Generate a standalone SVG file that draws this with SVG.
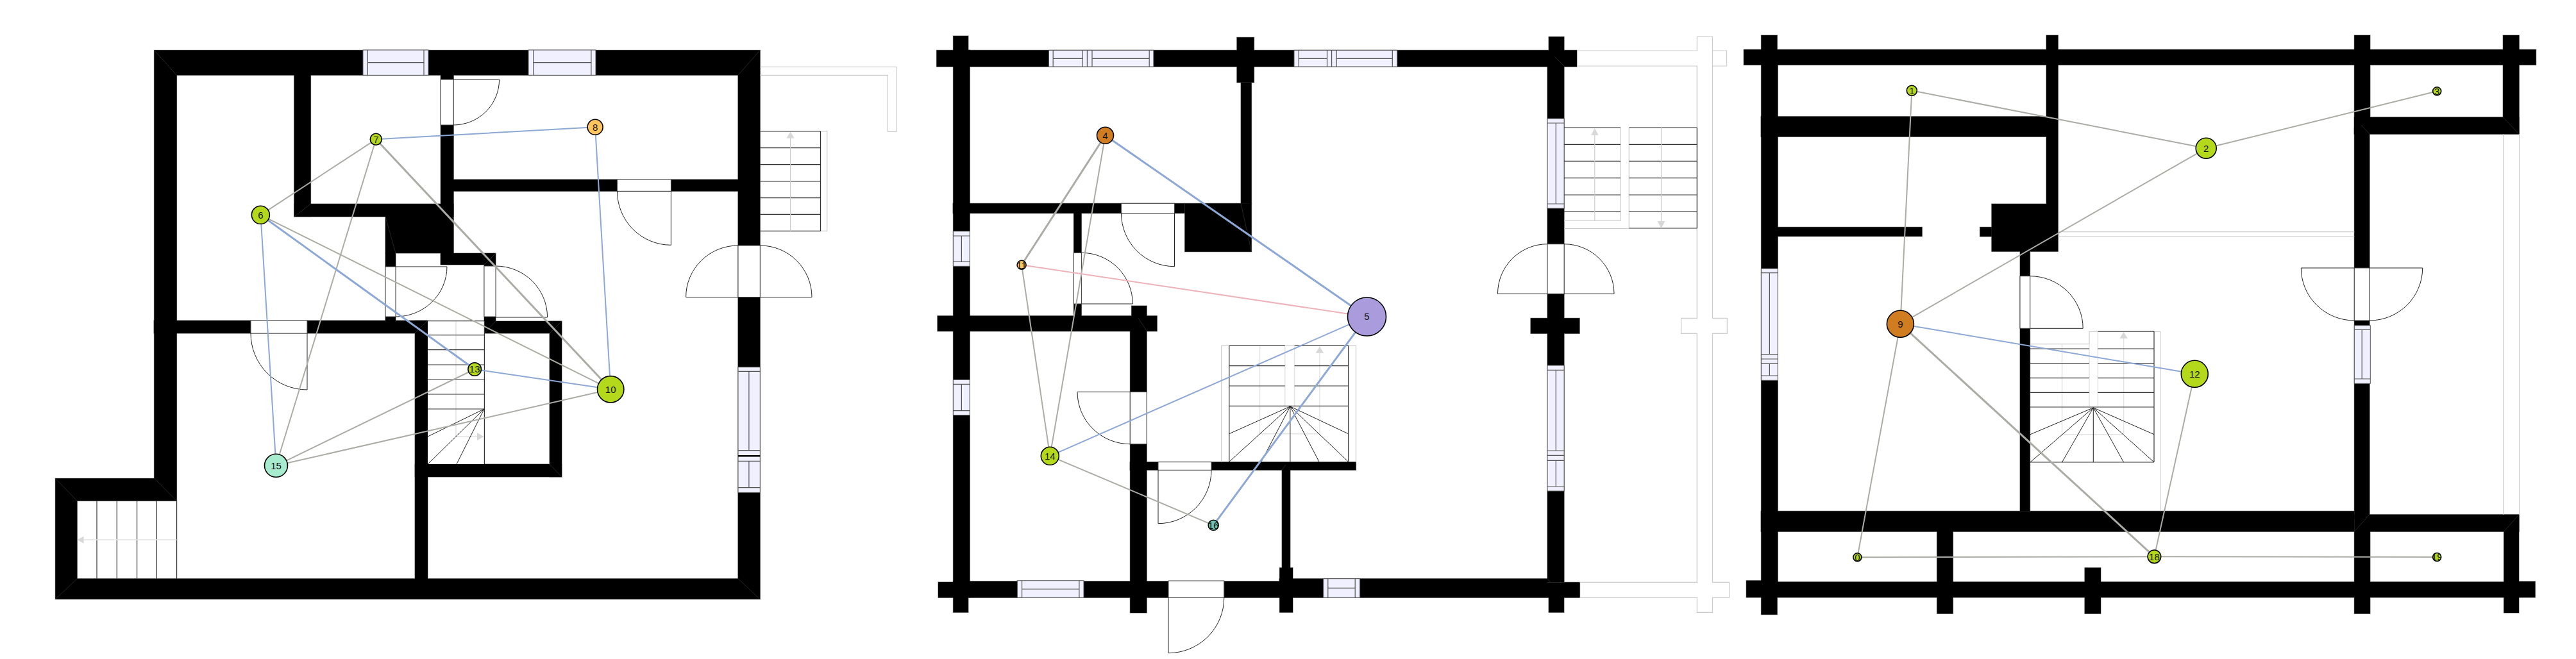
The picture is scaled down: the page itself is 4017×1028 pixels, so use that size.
<svg xmlns="http://www.w3.org/2000/svg" xmlns:xlink="http://www.w3.org/1999/xlink" width="4017" height="1028" viewBox="0 0 4017 1028">
<style>
.frame{fill:#fff;stroke:#444;stroke-width:1}
.door{fill:none;stroke:#222;stroke-width:1}
.win{fill:#f0f0fe;stroke:#555;stroke-width:1}
.wl{fill:none;stroke:#555;stroke-width:1.2}
.tread{fill:none;stroke:#333;stroke-width:1.2}
.fan{fill:none;stroke:#222;stroke-width:1}
.ghost{fill:none;stroke:#ccc;stroke-width:1.2}
.ghostb{fill:none;stroke:#e4e4e4;stroke-width:1.5}
.head{fill:#d8d8d8;stroke:none}
.seam{fill:none;stroke:#333;stroke-width:.7}
.e{fill:none;stroke-linecap:round}
.g{stroke:#acaca6;stroke-width:2}
.gt{stroke:#acaca6;stroke-width:3}
.b{stroke:#8ea8d6;stroke-width:2}
.bt{stroke:#8ea8d6;stroke-width:3}
.p{stroke:#eeb2ba;stroke-width:2}
.n{stroke:#000;stroke-width:1.6}
.t{font-family:"Liberation Sans",Arial,sans-serif;font-size:15px;fill:#111;text-anchor:middle}
.lime{fill:#b4d91c}.amber{fill:#ffc55f}.mint{fill:#a8ecd0}.teal{fill:#6fc2ad}.orange{fill:#d07c20}.violet{fill:#a99bdc}
</style>
<defs>
<g id="walls1">
<path fill-rule="evenodd" d="M240.4 78.3H1185.3V934.7H86.3V746.3H240.4Z M275.6 117.3V781.3H120.3V902.7H1150.9V117.3Z"/>
<rect x="458.7" y="117" width="25.9" height="221"/>
<rect x="458.7" y="318" width="248.6" height="20"/>
<rect x="687.2" y="117" width="20.1" height="278"/>
<rect x="707" y="280" width="444" height="18.3"/>
<rect x="601" y="338" width="106" height="57"/>
<rect x="601" y="395" width="16" height="105"/>
<rect x="240" y="500" width="427" height="20"/>
<rect x="687" y="395" width="86" height="18"/>
<rect x="755" y="413" width="18" height="88"/>
<rect x="755" y="501" width="121" height="19"/>
<rect x="857" y="501" width="19" height="243"/>
<rect x="647" y="500" width="20" height="403"/>
<rect x="647" y="724" width="229" height="20"/>
</g>
<g id="walls2">
<rect x="1460.5" y="78.3" width="998.5" height="25.7"/>
<rect x="1486.4" y="56" width="23.6" height="24"/>
<rect x="1486.4" y="78" width="25.9" height="830"/>
<rect x="1486.4" y="906" width="23.6" height="49.3"/>
<rect x="1463" y="908" width="50" height="24.3"/>
<rect x="1510" y="906.7" width="485.4" height="25.6"/>
<rect x="1995" y="902.7" width="418" height="29.6"/>
<rect x="2413" y="908.3" width="50.6" height="24"/>
<rect x="1461.9" y="492.7" width="342.4" height="24"/>
<rect x="1486" y="317.3" width="361.6" height="15.4"/>
<rect x="1847.6" y="317.3" width="104" height="75.4"/>
<rect x="1935" y="128.7" width="16.6" height="189"/>
<rect x="1928.8" y="58.3" width="26.8" height="70.4"/>
<rect x="1674.4" y="332" width="12" height="161"/>
<rect x="1762.3" y="516" width="25.9" height="440"/>
<rect x="1764.5" y="477" width="23.7" height="16"/>
<rect x="1762" y="720.7" width="352.5" height="12.6"/>
<rect x="1999" y="733" width="13" height="153"/>
<rect x="1995.4" y="885.7" width="20.6" height="69.6"/>
<rect x="2413" y="104" width="26.1" height="804"/>
<rect x="2415" y="57.3" width="24.1" height="22"/>
<rect x="2415" y="930" width="24" height="25.3"/>
<rect x="2386.9" y="496.3" width="76.3" height="24"/>
</g>
<g id="walls3">
<rect x="2719.2" y="77.3" width="1235.5" height="24"/>
<rect x="2746.4" y="55" width="25" height="30"/>
<rect x="2746.4" y="80" width="25.9" height="830"/>
<rect x="2746.4" y="905" width="25" height="53.7"/>
<rect x="2723.2" y="905.7" width="30" height="26.3"/>
<rect x="2750" y="907.7" width="1180" height="24.3"/>
<rect x="3925" y="907" width="28.4" height="25"/>
<rect x="2746" y="181.7" width="463" height="31.6"/>
<rect x="3191" y="55" width="18.4" height="263"/>
<rect x="3105.8" y="318" width="103.6" height="74.3"/>
<rect x="3087.5" y="354.3" width="18.3" height="14.7"/>
<rect x="2772" y="354.3" width="225.3" height="14.4"/>
<rect x="3150" y="392" width="15.6" height="405.3"/>
<rect x="2746" y="797.3" width="925.3" height="32"/>
<rect x="3671.3" y="802.7" width="257" height="26.6"/>
<rect x="3020.5" y="829" width="25" height="128.3"/>
<rect x="3250.9" y="885.7" width="25" height="71.6"/>
<rect x="3671.3" y="55" width="24.7" height="154"/>
<rect x="3671.3" y="200" width="23.8" height="610"/>
<rect x="3671.3" y="829" width="24.7" height="128.3"/>
<rect x="3671.3" y="182.7" width="257" height="26.6"/>
<rect x="3903.2" y="55" width="25.1" height="154"/>
<rect x="3904.5" y="829" width="23.5" height="127"/>
</g>
<clipPath id="c0"><circle cx="2896.4" cy="869.3" r="6.5"/></clipPath>
<clipPath id="c1"><circle cx="2981.3" cy="141.3" r="8"/></clipPath>
<clipPath id="c3"><circle cx="3800.2" cy="142.3" r="6.5"/></clipPath>
<clipPath id="c7"><circle cx="586.3" cy="217.3" r="9"/></clipPath>
<clipPath id="c11"><circle cx="1593.1" cy="413.3" r="7"/></clipPath>
<clipPath id="c13"><circle cx="740.2" cy="576" r="10.3"/></clipPath>
<clipPath id="c16"><circle cx="1892.2" cy="819.3" r="8"/></clipPath>
<clipPath id="c18"><circle cx="3359.4" cy="868.3" r="10.3"/></clipPath>
<clipPath id="c19"><circle cx="3800.2" cy="869" r="6.5"/></clipPath>
</defs>

<rect width="4017" height="1028" fill="#fff"/>

<g id="plan-1">
<use href="#walls1" fill="#000" stroke="#888" stroke-width="1.2"/>
<use href="#walls1" fill="#000" stroke="none"/>
<path class="seam" d="M240.4 78.3L275.6 117.3M1185.3 78.3L1150.9 117.3M1185.3 934.7L1150.9 902.7M86.3 934.7L120.3 902.7M86.3 746.3L120.3 781.3M240.4 746.3L275.6 781.3M458.7 338L484.6 318M601 338L617 395M647 520L667 500M755 520L773 501M876 501L857 520M876 744L857 724M773 395L755 413"/>
<path class="ghost" d="M1185.3 104.3H1397.8V205.3H1384.4V117.3H1185.3"/>
<rect class="ghost" x="1279.5" y="204.7" width="10.2" height="155.6"/>
<rect x="566" y="78" width="102" height="39.3" class="win"/><path class="wl" d="M573.4 78V117.3M661 78V117.3M573.4 97.7H661"/>
<rect x="824" y="78" width="105" height="39.3" class="win"/><path class="wl" d="M831.7 78V117.3M921.9 78V117.3M831.7 97.7H921.9"/>
<rect x="1151" y="572.7" width="34.3" height="195.6" class="win"/><path class="wl" d="M1151 579.3H1185.3M1167.9 579.3V702.7M1151 702.7H1185.3M1167.9 719.3V760.7M1151 719.3H1185.3M1151 760.7H1185.3"/><path d="M1151 711.3H1185.3" stroke="#000" stroke-width="2.5"/>
<rect class="frame" x="687.2" y="124" width="20.1" height="71"/><path class="door" d="M707 124H778.6A71.6 71 0 0 1 707 195"/>
<rect class="frame" x="601" y="416" width="16" height="78"/><path class="door" d="M617 416H697A80 78 0 0 1 617 494"/>
<rect class="frame" x="755" y="415" width="18" height="79"/><path class="door" d="M773 495H853.6A80.6 80 0 0 0 773 415"/>
<rect class="frame" x="391" y="500" width="88" height="20"/><path class="door" d="M479 520V608A88 88 0 0 1 391 520"/>
<rect class="frame" x="962.5" y="280" width="83.9" height="18.3"/><path class="door" d="M1046.4 298V382.3A84 84 0 0 1 962.5 298"/>
<rect class="frame" x="1151" y="383" width="34.3" height="80.6"/><path class="door" d="M1151 463.6H1069.6A81.4 80.6 0 0 1 1151 383M1185.3 463.6H1266A80.7 80.6 0 0 0 1185.3 383"/>
<rect x="667" y="500.7" width="88" height="223.3" fill="#fff"/>
<path class="ghostb" d="M711 500.7V681H745"/>
<path class="head" d="M754.5 681L744 675V687Z"/>
<path class="tread" d="M667 500.7H755M667 522.7H755M667 545.7H755M667 569H755M667 592H755M667 615H755M667 638H755M755.4 500.7V724"/>
<path class="fan" d="M755 638L667 681M755 638L667 724M755 638L712 724"/>
<path class="tread" d="M1185.3 204.7H1279.5M1185.3 230.7H1279.5M1185.3 256.7H1279.5M1185.3 282.7H1279.5M1185.3 308.7H1279.5M1185.3 334.3H1279.5M1185.3 360.3H1279.5M1279.5 204.7V360.3"/>
<path class="ghost" d="M1232.6 215V360.3"/><path class="head" d="M1232.6 205.5L1226.3 215.7H1238.8Z"/>
<path class="tread" d="M151 781.3V902.7M182.3 781.3V902.7M213.6 781.3V902.7M244.4 781.3V902.7M275.6 781.3V902.7"/>
<path class="ghostb" d="M275.6 842H130"/><path class="head" d="M120.5 842L130.5 836.7V847.7Z"/>
</g>

<g id="plan-2">
<use href="#walls2" fill="#000" stroke="#888" stroke-width="1.2"/>
<use href="#walls2" fill="#000" stroke="none"/>
<path class="seam" d="M1951.6 392.7L1935 317.3M1775 496L1788 516M2439 103L2426 90M2413 902.7L2418 908M1999 733L2005 725"/>
<path class="ghost" d="M2459 79H2646.4V57.3H2670.5V79H2692.5V103H2670.5V496.3H2693.3V520.3H2670.5V908.3H2696.6V932.3H2670.5V955.3H2646.4V932.3H2463.6M2463.6 908.3H2646.4V520.3H2621.6V496.3H2646.4V103H2459"/>
<path class="ghost" d="M2646.4 103V496.3M2646.4 520.3V908.3M2670.5 103V79"/>
<rect x="1635.5" y="78.3" width="163.4" height="25.7" class="win"/><path class="wl" d="M1642.2 78.3V104M1688.2 78.3V104M1695.4 78.3V104M1703 78.3V104M1792.2 78.3V104M1642.2 91.3H1688.2M1703 91.3H1792.2"/>
<rect x="2018" y="78.3" width="160.8" height="25.7" class="win"/><path class="wl" d="M2025.3 78.3V104M2069.5 78.3V104M2076.6 78.3V104M2084.2 78.3V104M2171.3 78.3V104M2025.3 91.3H2069.5M2084.2 91.3H2171.3"/>
<rect x="1486.4" y="360.7" width="25.9" height="54.6" class="win"/><path class="wl" d="M1486.4 368H1512.3M1486.4 408.3H1512.3M1499.4 368V408.3"/>
<rect x="1486.4" y="592.3" width="25.9" height="55.4" class="win"/><path class="wl" d="M1486.4 599.3H1512.3M1486.4 640.7H1512.3M1499.4 599.3V640.7"/>
<rect x="1586.4" y="905.7" width="103.6" height="26.6" class="win"/><path class="wl" d="M1593.6 905.7V932.3M1682.9 905.7V932.3M1593.6 919H1682.9"/>
<rect x="2063.7" y="902.7" width="56.9" height="29.6" class="win"/><path class="wl" d="M2070.8 902.7V932.3M2113.2 902.7V932.3M2070.8 917.3H2113.2"/>
<rect x="2413" y="185" width="26.1" height="140" class="win"/><path class="wl" d="M2413 192H2439.1M2413 318H2439.1M2426.3 192V318"/>
<rect x="2413" y="570" width="26.1" height="196" class="win"/><path class="wl" d="M2413 577.3H2439.1M2413 703H2439.1M2413 710.3H2439.1M2413 718.3H2439.1M2413 759H2439.1M2426.3 577.3V703M2426.3 718.3V759"/>
<rect class="frame" x="1748.5" y="317.3" width="83" height="15.4"/><path class="door" d="M1831.5 332.7V415.7A83 83 0 0 1 1748.5 332.7"/>
<rect class="frame" x="1674.4" y="394.3" width="12" height="79.7"/><path class="door" d="M1686.4 394.3A79.9 79.7 0 0 1 1766.3 474H1686.4"/>
<rect class="frame" x="1762.3" y="611.3" width="25.9" height="81.4"/><path class="door" d="M1762.3 611.3H1680A82.3 81.4 0 0 0 1762.3 692.7"/>
<rect class="frame" x="1806" y="720.7" width="83" height="12.6"/><path class="door" d="M1806 733.3V816.7A83 83.4 0 0 0 1889 733.3"/>
<rect class="frame" x="1822" y="906" width="86.8" height="26.3"/><path class="door" d="M1822 932.3V1018.7A86.8 86.4 0 0 0 1908.8 932.3"/>
<rect class="frame" x="2413" y="380.7" width="26.1" height="77.6"/><path class="door" d="M2413 380.7A77.5 77.6 0 0 0 2335.5 458.3H2413M2439 380.7A78 77.6 0 0 1 2517 458.3H2439"/>
<path class="ghost" d="M1904.7 720.7V539.3H2114.5V720.7"/>
<path class="ghostb" d="M1964.5 539.3V676.7H2057.9V539.3M2003.8 539.3V633M2018.6 539.3V633"/>
<path class="head" d="M2057.9 540.7L2051.5 550.7H2064.3Z"/>
<path class="tread" d="M1916.8 539.3H2003.8M2018.6 539.3H2103M1916.8 570.7H2003.8M2018.6 570.7H2103M1916.8 602H2003.8M2018.6 602H2103M1916.8 633.3H2103M1916.8 539.3V720.3M2102.7 539.3V720.3"/>
<path class="fan" d="M2011.9 634L1916.8 676.7M2011.9 634L1916.8 720.3M2011.9 634L1966.8 720.3M2011.9 634V720.3M2011.9 634L2057 720.3M2011.9 634L2102.5 720.3M2011.9 634L2102.5 676.7"/>
<path class="ghost" d="M2439 344.3H2527V199.3M2540.3 199.3V356M2439 356.5H2540.3"/>
<path class="tread" d="M2439 199.3H2527M2540.3 199.3H2646.4M2439 225.3H2527M2540.3 225.3H2646.4M2439 251.3H2527M2540.3 251.3H2646.4M2439 277.7H2527M2540.3 277.7H2646.4M2439 304H2527M2540.3 304H2646.4M2439 330.3H2527M2540.3 330.3H2646.4M2540.3 356H2646.4M2646.4 199.3V356"/>
<path class="ghost" d="M2486.8 210V344.3M2590.5 199.3V346"/>
<path class="head" d="M2486.8 200L2481 210.7H2492.6ZM2590.5 356L2584.5 345H2596.5Z"/>
</g>

<g id="plan-3">
<use href="#walls3" fill="#000" stroke="#888" stroke-width="1.2"/>
<use href="#walls3" fill="#000" stroke="none"/>
<path class="seam" d="M3695 209L3682 195M3928.3 209.3L3903 182.7M3671.3 829.3L3695 802.7M3904.5 829.3L3928 802.7"/>
<path class="ghost" d="M3209.4 361.7H3671.3M3209.4 369.3H3671.3M3903.6 209.3V802.7M3928.7 209.3V802.7"/>
<path class="ghost" d="M3165.6 536.7H3258V517.3H3368.8V797.3"/>
<rect x="2746.4" y="419" width="25.9" height="174.3" class="win"/><path class="wl" d="M2746.4 425.7H2772.3M2759.4 425.7V552.7M2746.4 552.7H2772.3M2746.4 560H2772.3M2746.4 567.3H2772.3M2759.4 567.3V586M2746.4 586H2772.3"/>
<rect x="3671.3" y="507.7" width="25" height="90.6" class="win"/><path class="wl" d="M3671.3 514.3H3696.3M3683.2 514.3V591M3671.3 591H3696.3"/>
<rect class="frame" x="3150" y="430.7" width="15.6" height="81.6"/><path class="door" d="M3165.6 430.7A82.6 81.6 0 0 1 3248.2 512.3H3165.6"/>
<rect class="frame" x="3671.3" y="418" width="23.8" height="82"/><path class="door" d="M3671.3 418H3588.3A83 82 0 0 0 3671.3 500M3695 418H3777.7A82.7 82 0 0 1 3695 500"/>
<path class="ghostb" d="M3215.6 536.7V677.7H3311.6V517.3M3258 536.7V634M3271.4 517.3V634"/>
<path class="head" d="M3311.6 518L3305.3 528H3317.9Z"/>
<path class="tread" d="M3271.4 516.7H3359M3165.6 544H3258M3271.4 544H3359M3165.6 566.7H3258M3271.4 566.7H3359M3165.6 589.7H3258M3271.4 589.7H3359M3165.6 612.3H3258M3271.4 612.3H3359M3165.6 635H3359M3359 516.7V721M3165.6 721H3359"/>
<path class="fan" d="M3264.3 636L3166 677.7M3264.3 636L3166 721M3264.3 636L3215.6 721M3264.3 636V721M3264.3 636L3311.6 721M3264.3 636L3359 721M3264.3 636L3359 677.7"/>
</g>

<g id="connectors">
<path class="e g" d="M406.4 335.3L586.3 217.3"/>
<path class="e g" d="M586.3 217.3L430.5 726.3"/>
<path class="e gt" d="M586.3 217.3L952.2 607.3"/>
<path class="e b" d="M586.3 217.3L928.1 198.3"/>
<path class="e b" d="M928.1 198.3L952.2 607.3"/>
<path class="e b" d="M406.4 335.3L430.5 726.3"/>
<path class="e bt" d="M406.4 335.3L740.2 576"/>
<path class="e g" d="M406.4 335.3L952.2 607.3"/>
<path class="e g" d="M740.2 576L430.5 726.3"/>
<path class="e b" d="M740.2 576L952.2 607.3"/>
<path class="e g" d="M430.5 726.3L952.2 607.3"/>
<path class="e gt" d="M1723.5 211.3L1593.1 413.3"/>
<path class="e g" d="M1723.5 211.3L1637.3 711.3"/>
<path class="e bt" d="M1723.5 211.3L2131.5 494"/>
<path class="e g" d="M1593.1 413.3L1637.3 711.3"/>
<path class="e p" d="M1593.1 413.3L2131.5 494"/>
<path class="e b" d="M2131.5 494L1637.3 711.3"/>
<path class="e bt" d="M2131.5 494L1892.2 819.3"/>
<path class="e g" d="M1637.3 711.3L1892.2 819.3"/>
<path class="e g" d="M2981.3 141.3L3440.2 231.3"/>
<path class="e g" d="M2981.3 141.3L2963.4 505.3"/>
<path class="e g" d="M3440.2 231.3L3800.2 142.3"/>
<path class="e g" d="M3440.2 231.3L2963.4 505.3"/>
<path class="e b" d="M2963.4 505.3L3422.3 583.3"/>
<path class="e gt" d="M2963.4 505.3L3359.4 868.3"/>
<path class="e g" d="M2963.4 505.3L2896.4 869.3"/>
<path class="e g" d="M3422.3 583.3L3359.4 868.3"/>
<path class="e g" d="M2896.4 869.3L3359.4 868.3"/>
<path class="e g" d="M3359.4 868.3L3800.2 869"/>
</g>

<g id="node-0"><circle class="n lime" cx="2896.4" cy="869.3" r="6.5"/><text class="t" x="2896.4" y="874.6" clip-path="url(#c0)">0</text></g>
<g id="node-1"><circle class="n lime" cx="2981.3" cy="141.3" r="8"/><text class="t" x="2981.3" y="146.6" clip-path="url(#c1)">1</text></g>
<g id="node-2"><circle class="n lime" cx="3440.2" cy="231.3" r="16"/><text class="t" x="3440.2" y="236.6">2</text></g>
<g id="node-3"><circle class="n lime" cx="3800.2" cy="142.3" r="6.5"/><text class="t" x="3800.2" y="147.6" clip-path="url(#c3)">3</text></g>
<g id="node-4"><circle class="n orange" cx="1723.5" cy="211.3" r="13"/><text class="t" x="1723.5" y="216.6">4</text></g>
<g id="node-5"><circle class="n violet" cx="2131.5" cy="494" r="30"/><text class="t" x="2131.5" y="499.3">5</text></g>
<g id="node-6"><circle class="n lime" cx="406.4" cy="335.3" r="14"/><text class="t" x="406.4" y="340.6">6</text></g>
<g id="node-7"><circle class="n lime" cx="586.3" cy="217.3" r="9"/><text class="t" x="586.3" y="222.6" clip-path="url(#c7)">7</text></g>
<g id="node-8"><circle class="n amber" cx="928.1" cy="198.3" r="12"/><text class="t" x="928.1" y="203.6">8</text></g>
<g id="node-9"><circle class="n orange" cx="2963.4" cy="505.3" r="21"/><text class="t" x="2963.4" y="510.6">9</text></g>
<g id="node-10"><circle class="n lime" cx="952.2" cy="607.3" r="20.7"/><text class="t" x="952.2" y="612.6">10</text></g>
<g id="node-11"><circle class="n amber" cx="1593.1" cy="413.3" r="7"/><text class="t" x="1593.1" y="418.6" clip-path="url(#c11)">11</text></g>
<g id="node-12"><circle class="n lime" cx="3422.3" cy="583.3" r="21"/><text class="t" x="3422.3" y="588.6">12</text></g>
<g id="node-13"><circle class="n lime" cx="740.2" cy="576" r="10.3"/><text class="t" x="740.2" y="581.3" clip-path="url(#c13)">13</text></g>
<g id="node-14"><circle class="n lime" cx="1637.3" cy="711.3" r="14"/><text class="t" x="1637.3" y="716.6">14</text></g>
<g id="node-15"><circle class="n mint" cx="430.5" cy="726.3" r="18"/><text class="t" x="430.5" y="731.6">15</text></g>
<g id="node-16"><circle class="n teal" cx="1892.2" cy="819.3" r="8"/><text class="t" x="1892.2" y="824.6" clip-path="url(#c16)">16</text></g>
<g id="node-18"><circle class="n lime" cx="3359.4" cy="868.3" r="10.3"/><text class="t" x="3359.4" y="873.6" clip-path="url(#c18)">18</text></g>
<g id="node-19"><circle class="n lime" cx="3800.2" cy="869" r="6.5"/><text class="t" x="3800.2" y="874.3" clip-path="url(#c19)">19</text></g>
</svg>
